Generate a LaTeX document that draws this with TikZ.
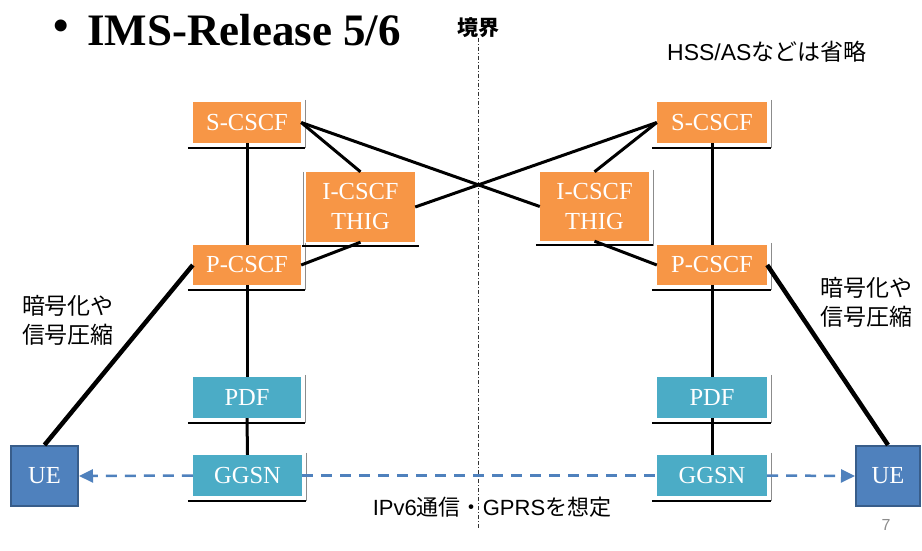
\documentclass[tikz,border=0pt]{standalone}
\usepackage{fontspec}
\setmainfont{Liberation Serif}
\setsansfont{Liberation Sans}
\newfontfamily\cjk{Noto Sans CJK JP}
\usetikzlibrary{arrows.meta}
\definecolor{orng}{HTML}{F79646}
\definecolor{tealb}{HTML}{4BACC6}
\definecolor{ueblue}{HTML}{4F81BD}
\definecolor{ueedge}{HTML}{385D8A}
\begin{document}
\begin{tikzpicture}[x=1pt,y=-1pt,
  obox/.style={fill=orng,text=white,font=\fontsize{24.5}{30}\selectfont,inner sep=0pt,align=center,minimum width=108pt,minimum height=41pt},
  tbox/.style={obox,fill=tealb},
  uebox/.style={fill=ueblue,draw=ueedge,line width=2pt,text=white,font=\fontsize{24.5}{30}\selectfont,inner sep=0pt,minimum width=67pt,minimum height=60pt},
  conn/.style={line width=3pt,black},
  uecon/.style={line width=4.5pt,black},
  bline/.style={line width=1.8pt,black},
  gline/.style={line width=0.6pt,black!45},
  dasharr/.style={line width=2.5pt,ueblue,dash pattern=on 11pt off 8pt},
  tipend/.style={-{Triangle[length=14pt,width=13pt]}},
  lbl/.style={font=\cjk\fontsize{23}{29}\selectfont,align=center,inner sep=0pt}
]
\useasboundingbox (0,0) rectangle (922,551);
\fill[white] (0,0) rectangle (922,551);

% boundary line
\coordinate (btop) at (478,38);
\coordinate (bbot) at (478,528);
\draw[line width=0.8pt,black!80,dash pattern=on 4pt off 2pt on 1pt off 2pt] (btop) -- (bbot);

% title
\node[anchor=center,font=\fontsize{44}{44}\selectfont\bfseries,inner sep=0pt] (bul) at (61,30) {•};
\node[anchor=west,font=\fontsize{45}{45}\selectfont\bfseries,inner sep=0pt] (title) at (87,30) {IMS-Release 5/6};
\node[font=\cjk\bfseries\fontsize{21}{21}\selectfont,inner sep=0pt] (kyo) at (478,28) {境界};
\node[anchor=west,inner sep=0pt] (hss) at (667,52) {\fontsize{23}{23}\selectfont\sffamily HSS/AS\cjk などは省略};

% left side boxes
\node[obox] (Sl) at (247,122.5) {S-CSCF};
\node[obox,minimum width=109pt,minimum height=70pt] (Il) at (360.5,207) {I-CSCF\\THIG};
\node[obox,minimum height=40pt] (Pl) at (247,265) {P-CSCF};
\node[tbox] (Dl) at (247,397.5) {PDF};
\node[tbox,minimum width=109pt] (Gl) at (247.5,475.5) {GGSN};
\node[uebox] (Ul) at (44.5,476) {UE};

% right side boxes
\node[obox,minimum width=110pt] (Sr) at (712,122.5) {S-CSCF};
\node[obox,minimum width=109pt,minimum height=69pt] (Ir) at (594.5,206.5) {I-CSCF\\THIG};
\node[obox,minimum width=110pt,minimum height=40pt] (Pr) at (712,265) {P-CSCF};
\node[tbox,minimum width=110pt] (Dr) at (712,397.5) {PDF};
\node[tbox,minimum width=110pt] (Gr) at (712,475.5) {GGSN};
\node[uebox,minimum width=64pt] (Ur) at (888,476) {UE};

% decorative edges of boxes
\foreach \n in {Sl,Pl,Dl,Gl,Sr,Pr,Dr,Gr,Ir}{
  \draw[gline] ([shift={(4pt,2pt)}]\n.north east) -- ([shift={(4pt,-5pt)}]\n.south east);
}
\draw[gline] ([shift={(-3pt,0pt)}]Il.north west) -- ([shift={(-3pt,-4pt)}]Il.south west);
\foreach \n in {Sl,Pl,Dl,Gl,Sr,Pr,Dr,Gr}{
  \draw[bline] ([shift={(-5pt,-5pt)}]\n.south west) -- ([shift={(4pt,-5pt)}]\n.south east);
}
\foreach \n in {Il,Ir}{
  \draw[bline] ([shift={(-4pt,-4pt)}]\n.south west) -- ([shift={(4pt,-4pt)}]\n.south east);
}

% connectors
\draw[conn] (Sl.south) -- (Pl.north);
\draw[conn] (Pl.south) -- (Dl.north);
\draw[conn] (Dl.south) -- (Gl.north);
\draw[conn] (Sr.south) -- (Pr.north);
\draw[conn] (Pr.south) -- (Dr.north);
\draw[conn] (Dr.south) -- (Gr.north);
\draw[conn] (Sl.east) -- (Il.north);
\draw[conn] (Sr.west) -- (Ir.north);
\draw[conn] (Sl.east) -- (Ir.west);
\draw[conn] (Sr.west) -- (Il.east);
\draw[conn] (Il.south) -- (Pl.east);
\draw[conn] (Ir.south) -- (Pr.west);
\draw[uecon] (Pl.west) -- (Ul.north);
\draw[uecon] (Pr.east) -- (Ur.north);

% user plane
\draw[dasharr,tipend] (Gl.west) -- (Ul.east);
\draw[dasharr] (Gl.east) -- (Gr.west);
\draw[dasharr,tipend] (Gr.east) -- (Ur.west);

% labels
\node[lbl] (encl) at (68,320) {暗号化や\\信号圧縮};
\node[lbl] (encr) at (866,302) {暗号化や\\信号圧縮};
\node[inner sep=0pt] (ipv6) at (492,507) {\fontsize{22}{22}\selectfont\sffamily IPv6\cjk 通信・\sffamily GPRS\cjk を想定};
\node[font=\sffamily\fontsize{16}{16}\selectfont,text=black!45,inner sep=0pt] (pg) at (886,525) {7};
\end{tikzpicture}
\end{document}
